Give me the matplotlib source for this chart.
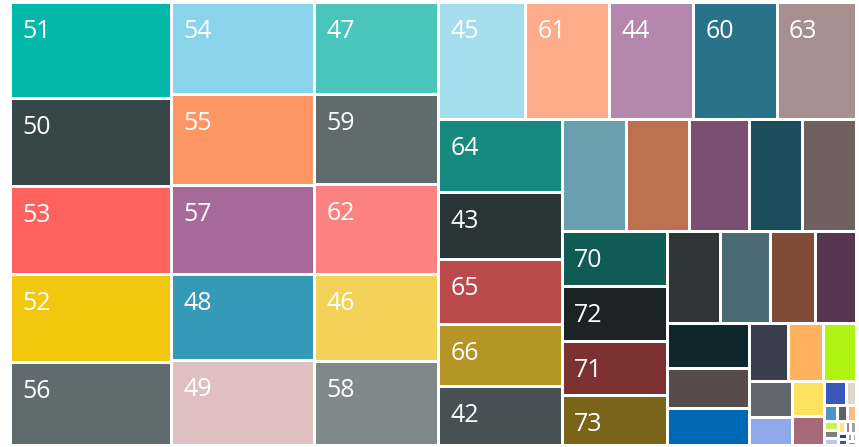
import matplotlib
matplotlib.use("Agg")
import matplotlib.pyplot as plt
from matplotlib.patches import Rectangle

plt.rcParams['font.family'] = ['Open Sans', 'DejaVu Sans']

# categories, sorted by value (largest first), the order the treemap uses
labels = ['51', '50', '53', '52', '56', '54', '55', '57', '48', '49',
          '47', '59', '62', '46', '58', '45', '61', '44', '60', '63',
          '64', '43', '65', '66', '42', '', '', '', '', '',
          '70', '72', '71', '73', '', '', '', '', '', '',
          '', '', '', '', '', '', '', '', '', '',
          '', '', '', '', '', '', '', '', '', '',
          '', '', '', '']
values = [1546, 1425, 1417, 1409, 1344, 1313, 1301, 1273, 1236, 1213,
          1134, 1112, 1108, 1083, 1035, 1029, 988, 983, 977, 933,
          905, 827, 812, 765, 735, 713, 702, 666, 599, 598,
          586, 578, 570, 523, 491, 462, 417, 374, 368, 327,
          299, 228, 207, 189, 156, 123, 111, 93, 53, 23,
          20, 17, 14, 13, 11, 10, 8, 6.5, 6.5, 6,
          5.5, 4, 3.5, 3]
colors = ['#01B8AA', '#374649', '#FD625E', '#F2C80F', '#5F6B6D', '#8AD4EB', '#FE9666', '#A66999', '#3599B8', '#DFBFBF',
          '#4AC5BB', '#5F6B6D', '#FB8281', '#F4D25A', '#7F898A', '#A4DDEE', '#FDAB89', '#B687AC', '#28738A', '#A78F8F',
          '#168980', '#293537', '#BB4A4A', '#B59525', '#475052', '#6A9FB0', '#BD7150', '#7B4F71', '#1B4D5C', '#706060',
          '#0F5C55', '#1C2325', '#7D3231', '#796419', '#303638', '#4A6B74', '#7E4C39', '#563650', '#0F262C', '#574B4B',
          '#0068B5', '#383E4B', '#FFB15E', '#AEF311', '#62676F', '#8FA8EA', '#FFE160', '#A66A7B', '#3A58B8', '#E3D5C7',
          '#4E94C9', '#5E6169', '#FFBB7F', '#C3F351', '#7D8186', '#B6C7F2', '#FFE27A', '#AC7E94', '#A39F9B', '#2A3E8A',
          '#2E5C8F', '#9AA3B5', '#C9A88A', '#8C9DB8']

PHI = (1 + 5 ** 0.5) / 2


def squarify(vals, x, y, w, h, ratio=PHI):
    # d3-style squarified layout: strip thickness / cell length aims at ratio
    scale = w * h / sum(vals)
    areas = [v * scale for v in vals]
    rects = []

    def worst(row, side):
        thick = sum(row) / side
        bad = 0
        for a in row:
            r = thick / (a / thick)
            bad = max(bad, r / ratio, ratio / r)
        return bad

    i = 0
    while i < len(areas):
        vertical = w >= h - 1  # near-square leftovers go into a column
        side = h if vertical else w
        row = [areas[i]]
        j = i + 1
        while j < len(areas) and worst(row + [areas[j]], side) <= worst(row, side):
            row.append(areas[j])
            j += 1
        thick = sum(row) / side
        if vertical:
            cy = y
            for a in row:
                rects.append((x, cy, thick, a / thick))
                cy += a / thick
            x += thick
            w -= thick
        else:
            cx = x
            for a in row:
                rects.append((cx, y, a / thick, thick))
                cx += a / thick
            y += thick
            h -= thick
        i = j
    return rects


fig = plt.figure(figsize=(8.59, 4.47), dpi=100)
ax = fig.add_axes([0, 0, 1, 1])
ax.set_xlim(0, 859)
ax.set_ylim(447, 0)
ax.axis('off')

gap = 1.5
rects = squarify(values, 10.5, 2.5, 846, 443)
for (x, y, w, h), c, lab in zip(rects, colors, labels):
    ax.add_patch(Rectangle((x + gap, y + gap), w - 2 * gap, h - 2 * gap,
                           facecolor=c, edgecolor='none'))
    if lab:
        ax.text(x + 12, y + 35.5, lab, color='white', fontsize=18,
                ha='left', va='baseline')

fig.savefig('out.png', dpi=100, facecolor='white')
